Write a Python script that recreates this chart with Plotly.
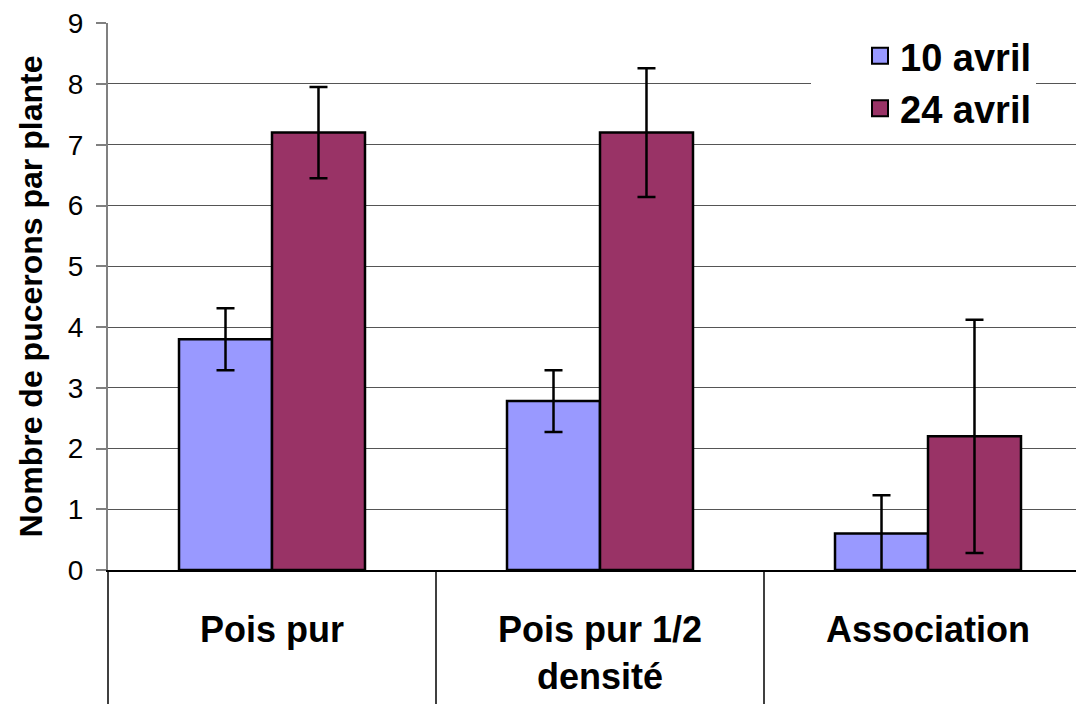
import plotly.graph_objects as go

categories = ["Pois pur", "Pois pur 1/2<br>densité", "Association"]
series_names = ["10 avril", "24 avril"]
avril10 = [3.8, 2.78, 0.6]
avril10_err = [0.51, 0.51, 0.63]
avril24 = [7.2, 7.2, 2.2]
avril24_err = [0.75, 1.06, 1.92]
y_ticks = [0, 1, 2, 3, 4, 5, 6, 7, 8, 9]

colors = ["#9999FF", "#993366"]
FONT = "Liberation Sans, Arial, sans-serif"

fig = go.Figure()
for name, vals, errs, col in zip(series_names, [avril10, avril24], [avril10_err, avril24_err], colors):
    fig.add_trace(go.Bar(
        x=categories, y=vals, name=name, showlegend=False,
        marker=dict(color=col, line=dict(color="black", width=2.5)),
        error_y=dict(type="data", array=errs, visible=True, color="black", thickness=2.5, width=9),
    ))
# legend entries with larger square keys
for name, col in zip(series_names, colors):
    fig.add_trace(go.Scatter(
        x=[None], y=[None], name=name, mode="markers",
        marker=dict(symbol="square", size=26, color=col, line=dict(color="black", width=2)),
    ))

fig.update_layout(
    width=1084, height=704,
    margin=dict(l=100, r=0, t=15, b=142, autoexpand=False),
    paper_bgcolor="white", plot_bgcolor="white",
    barmode="group", bargap=0.433, bargroupgap=0,
    font=dict(family=FONT, color="black"),
    showlegend=True,
    legend=dict(
        x=(811 - 108) / 984, xanchor="left", y=0.997, yanchor="top",
        bgcolor="white", borderwidth=0,
        font=dict(family=FONT, size=38, color="black", weight="bold"),
        indentation=49, entrywidth=220, itemsizing="trace",
        tracegroupgap=0,
    ),
)

fig.update_xaxes(
    type="category", range=[-0.5, 2.5],
    showline=True, linecolor="black", linewidth=1.5,
    showgrid=False,
    ticks="outside", tickson="boundaries", ticklen=142, tickwidth=1.5, tickcolor="#404040",
    ticklabelstandoff=27,
    tickfont=dict(family=FONT, size=36, color="black", weight="bold"),
)
fig.update_yaxes(
    range=[0, 9.004], tickvals=y_ticks,
    showline=True, linecolor="#808080", linewidth=2,
    showgrid=True, gridcolor="#555555", gridwidth=1.2,
    zeroline=False,
    ticks="outside", ticklen=10, tickwidth=1.5, tickcolor="#808080",
    ticklabeloverflow="allow", ticklabelstandoff=7,
    tickfont=dict(family=FONT, size=28, color="black"),
    title=dict(text="Nombre de pucerons par plante", standoff=16,
               font=dict(family=FONT, size=32, color="black", weight="bold")),
)

fig.write_html("out.html")
